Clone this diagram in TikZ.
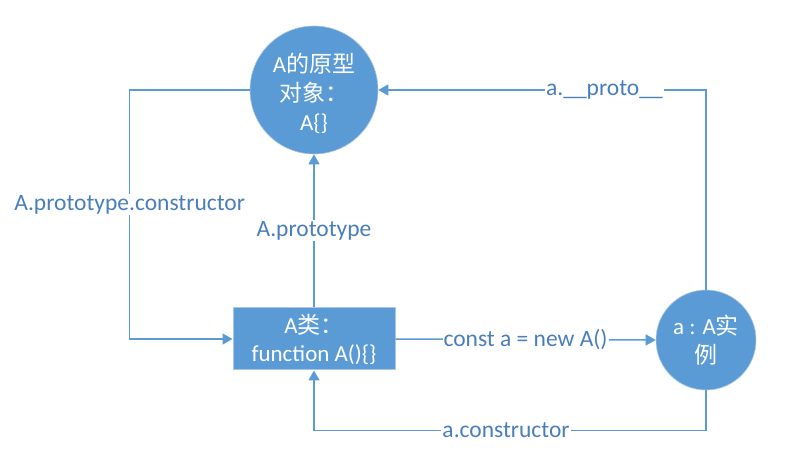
\documentclass[tikz,border=0pt]{standalone}
\usepackage{fontspec}
\setmainfont{Carlito}
\newfontfamily\cjk{Noto Sans CJK SC}
\usetikzlibrary{arrows.meta}
\definecolor{fillblue}{HTML}{5B9BD5}
\definecolor{lineblue}{HTML}{5B9BD5}
\definecolor{labelblue}{HTML}{4A7EBB}
\definecolor{rimblue}{HTML}{A9C6E6}
\tikzset{
  bignode/.style={circle, fill=fillblue, draw=rimblue, line width=0.6pt, inner sep=0pt, text=white, align=center, font=\fontsize{23}{29}\selectfont},
  boxnode/.style={rectangle, fill=fillblue, draw=rimblue, line width=1pt, inner sep=0pt, minimum width=162pt, minimum height=62pt, text=white, align=center, font=\fontsize{23}{28}\selectfont},
  conn/.style={draw=lineblue, line width=1.5pt, -{Triangle[length=10pt,width=11pt]}},
  lbl/.style={fill=white, text=labelblue, inner sep=1pt, font=\fontsize{23.5}{26}\selectfont}
}
\begin{document}
\begin{tikzpicture}[x=1pt,y=-1pt]
\useasboundingbox (0,0) rectangle (793,462);
\node[bignode, minimum size=128pt] (P) at (314,90) {\rule{0pt}{26pt}A{\cjk 的原型}\\{\cjk 对象：}\\A\{\}};
\node[boxnode] (F) at (314,339) {A{\cjk 类：}\\function A()\{\}};
\node[bignode, minimum size=100pt] (I) at (706,340) {a : A{\cjk 实}\\{\cjk 例}};
\draw[conn] (F.north) -- node[lbl, pos=0.5]{A.prototype} (P.south);
\draw[conn] (P.west) -- ++(-120,0) |- node[lbl, pos=0.23]{A.prototype.constructor} (F.west);
\draw[conn] (F.east) -- node[lbl, pos=0.5]{const a = new A()} (I.west);
\draw[conn] (I.north) |- node[lbl, pos=0.655]{a.\_\_proto\_\_} (P.east);
\draw[conn] (I.south) -- ++(0,40) -| node[lbl, pos=0.255]{a.constructor} (F.south);
\end{tikzpicture}
\end{document}
